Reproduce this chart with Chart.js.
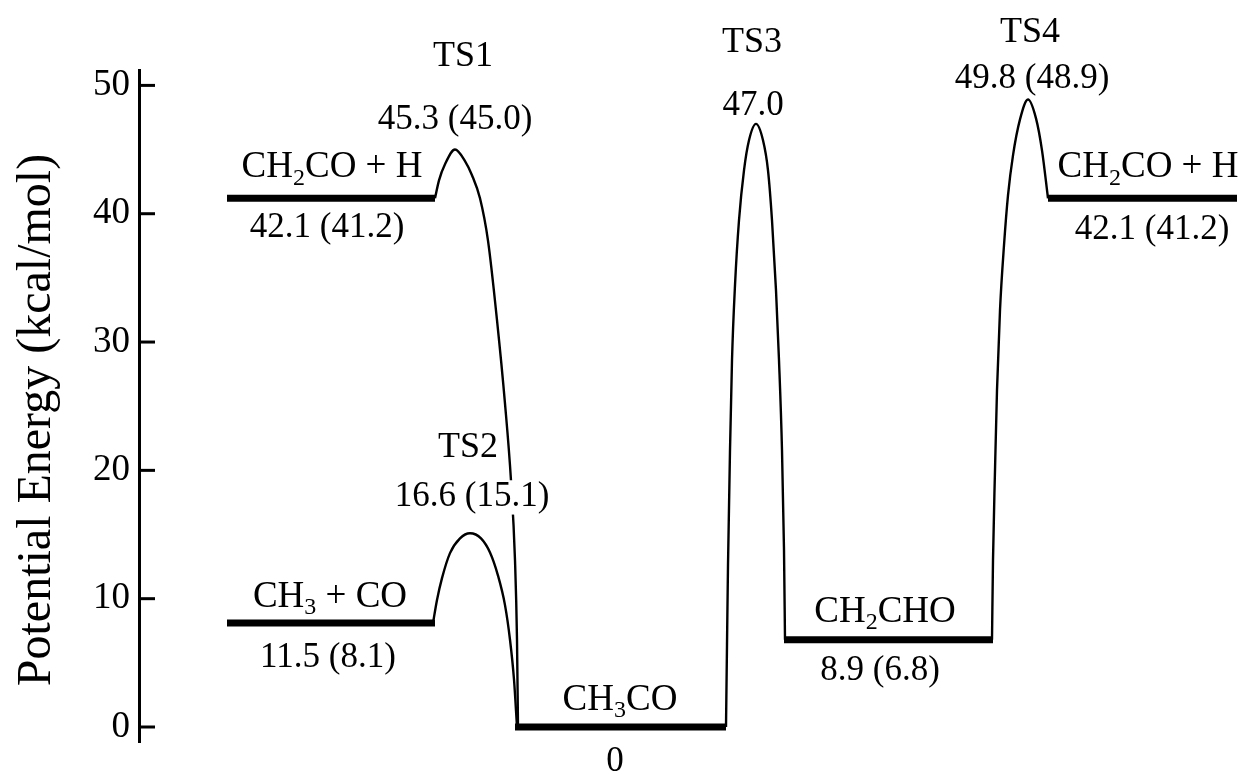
<!DOCTYPE html>
<html>
<head>
<meta charset="utf-8">
<title>CH3CO potential energy surface</title>
<script src="https://cdn.jsdelivr.net/npm/chart.js@4.4.1/dist/chart.umd.min.js"></script>
<style>
  html, body { margin: 0; background: #fff; }
  #wrap { width: 1251px; height: 774px; position: relative; }
</style>
</head>
<body>
<div id="wrap"><canvas id="pes"></canvas></div>
<script>
// energies in kcal/mol, x is an arbitrary reaction coordinate
const yTicks = [0, 10, 20, 30, 40, 50];

// flat levels (reactants / intermediates / products)
const levelStart = [88, 88, 376, 645, 909];
const levelEnd = [296, 296, 587, 854, 1098];
const levelEnergy = [41.2, 8.1, 0, 6.8, 41.2];

// barrier paths through each transition state
const ts1X = [296, 300, 306, 316, 326, 333, 341, 349, 358, 366, 372, 376, 378, 379];
const ts1Y = [41.2, 42.6, 43.85, 45.0, 44.1, 43.0, 41.2, 37.9, 31.7, 25.2, 19.2, 13.0, 6.8, 0];
const ts2X = [294, 298, 303, 311, 321, 331, 342, 351, 359, 366, 371, 375, 378];
const ts2Y = [8.1, 9.9, 11.6, 13.55, 14.7, 15.1, 14.7, 13.6, 11.8, 9.5, 6.8, 3.7, 0];
const ts3X = [587, 588, 589, 591, 593, 596, 600, 605, 610, 617, 624, 629, 633, 637, 640, 643, 645, 646];
const ts3Y = [0, 6.39, 12.62, 21.57, 28.58, 34.42, 39.49, 43.38, 45.72, 47.0,
  45.72, 43.38, 39.49, 34.03, 28.58, 21.57, 13.79, 6.8];
const ts4X = [853, 854, 856, 858, 861, 865, 869, 874, 881, 889, 897, 903, 909];
const ts4Y = [6.8, 13.0, 20.0, 26.25, 32.48, 37.54, 41.43, 44.55, 47.35, 48.9, 47.43, 44.94, 41.2];

// labels: "_" marks the next character as a subscript
const noteText = ['TS1', '45.3 (45.0)', 'CH_2CO + H', '42.1 (41.2)', 'CH_3 + CO', '11.5 (8.1)',
  'TS2', '16.6 (15.1)', 'CH_3CO', '0', 'TS3', '47.0', 'CH_2CHO', '8.9 (6.8)',
  'TS4', '49.8 (48.9)', 'CH_2CO + H', '42.1 (41.2)'];

// label anchors (centre x, baseline y) in axis units
const noteAt = [[324, 51.48], [316, 46.57], [193, 42.83], [188, 38.16], [191, 9.35], [189, 4.67],
  [329, 21.03], [333, 17.21], [481, 1.32], [476, -3.43], [613, 52.57], [614, 47.66], [746, 8.18], [741, 3.66],
  [891, 53.35], [893, 49.77], [1009, 42.83], [1013, 38.0]];
const noteBoxed = [7]; // sits on top of the TS1 line

const FONT = '"Liberation Serif", "Times New Roman", serif';

const toPts = (xs, ys) => xs.map((x, i) => ({ x: x, y: ys[i] }));

const datasets = [];
levelEnergy.forEach((e, i) => {
  datasets.push({
    data: [{ x: levelStart[i], y: e }, { x: levelEnd[i], y: e }],
    borderColor: '#000', borderWidth: 7, borderCapStyle: 'butt', pointRadius: 0, tension: 0
  });
});
[[ts1X, ts1Y], [ts2X, ts2Y], [ts3X, ts3Y], [ts4X, ts4Y]].forEach(([xs, ys]) => {
  datasets.push({
    data: toPts(xs, ys),
    borderColor: '#000', borderWidth: 2.4, pointRadius: 0,
    cubicInterpolationMode: 'monotone'
  });
});

function drawRich(ctx, str, cx, baseY, size, boxed) {
  const parts = [];
  for (let i = 0; i < str.length; i++) {
    if (str[i] === '_') { parts.push({ t: str[i + 1], sub: true }); i++; }
    else if (parts.length && !parts[parts.length - 1].sub) parts[parts.length - 1].t += str[i];
    else parts.push({ t: str[i], sub: false });
  }
  const subSize = Math.round(size * 0.65);
  let w = 0;
  parts.forEach(p => {
    ctx.font = (p.sub ? subSize : size) + 'px ' + FONT;
    p.w = ctx.measureText(p.t).width;
    w += p.w;
  });
  let x = cx - w / 2;
  if (boxed) {
    ctx.fillStyle = '#fff';
    ctx.fillRect(x - 3, baseY - size * 0.74, w + 6, size * 0.98);
  }
  ctx.fillStyle = '#000';
  ctx.textAlign = 'left';
  ctx.textBaseline = 'alphabetic';
  parts.forEach(p => {
    ctx.font = (p.sub ? subSize : size) + 'px ' + FONT;
    ctx.fillText(p.t, x, p.sub ? baseY + size * 0.2 : baseY);
    x += p.w;
  });
}

const decor = {
  id: 'decor',
  afterDatasetsDraw(chart) {
    const { ctx, chartArea, scales } = chart;
    const ys = scales.y, xs = scales.x;
    ctx.save();
    // inward tick marks
    ctx.strokeStyle = '#000';
    ctx.lineWidth = 3;
    yTicks.forEach(v => {
      const py = ys.getPixelForValue(v);
      ctx.beginPath();
      ctx.moveTo(chartArea.left, py);
      ctx.lineTo(chartArea.left + 16, py);
      ctx.stroke();
    });
    // axis title
    ctx.save();
    ctx.translate(37, 420);
    ctx.rotate(-Math.PI / 2);
    ctx.font = '48px ' + FONT;
    ctx.fillStyle = '#000';
    ctx.textAlign = 'center';
    ctx.textBaseline = 'middle';
    ctx.fillText('Potential Energy (kcal/mol)', 0, 0);
    ctx.restore();
    // labels
    noteText.forEach((t, i) => {
      let size = 37;
      if (/^[0-9]/.test(t)) size = 35;
      else if (t.startsWith('TS')) size = 36;
      drawRich(ctx, t, xs.getPixelForValue(noteAt[i][0]), ys.getPixelForValue(noteAt[i][1]),
        size, noteBoxed.includes(i));
    });
    ctx.restore();
  }
};

new Chart(document.getElementById('pes'), {
  type: 'line',
  data: { datasets: datasets },
  options: {
    responsive: true,
    maintainAspectRatio: false,
    animation: false,
    events: [],
    layout: { padding: { left: 0, right: 12, top: 70, bottom: 31.6 } },
    plugins: { legend: { display: false }, tooltip: { enabled: false } },
    scales: {
      x: { type: 'linear', min: 0, max: 1100, display: false },
      y: {
        type: 'linear', min: -1.2, max: 51.2,
        afterFit: s => { s.width = 139; },
        afterBuildTicks: s => { s.ticks = yTicks.map(v => ({ value: v })); },
        grid: { drawOnChartArea: false, drawTicks: false },
        border: { display: true, color: '#000', width: 3 },
        ticks: { color: '#000', padding: 9, font: { family: FONT, size: 37 } }
      }
    }
  },
  plugins: [decor]
});
</script>
</body>
</html>
